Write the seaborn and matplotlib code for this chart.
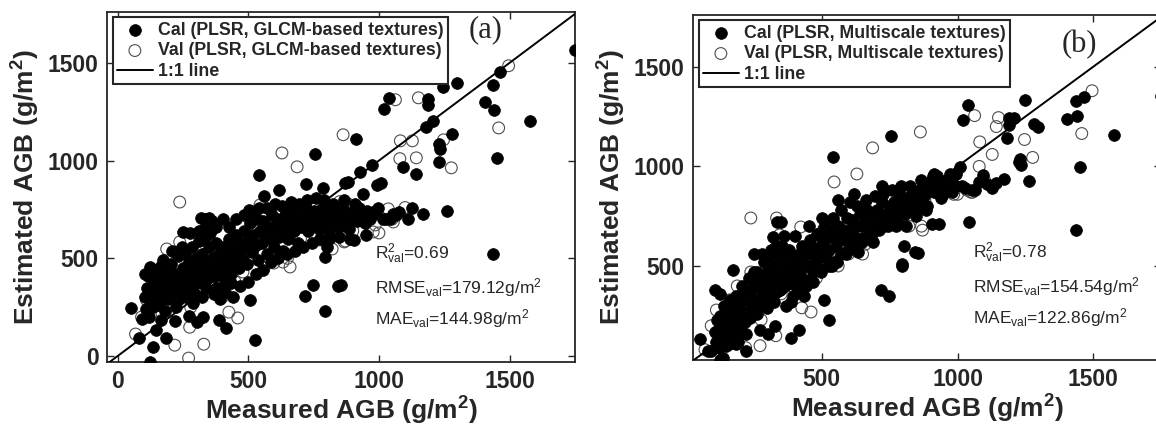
import numpy as np
import pandas as pd
import matplotlib
matplotlib.use("Agg")
import matplotlib.pyplot as plt
import seaborn as sns

# measured AGB (g/m2) of calibration samples, shared by both panels
cal_measured = [
    1750, 1465, 1435, 1404, 1442, 1577, 1450, 1438, 1297, 1247, 1189, 1189, 1040, 1020,
    1208, 1181, 1281, 913, 1231, 1235, 1228, 1143, 1093, 974, 928, 1009, 993, 882, 940,
    1262, 1170, 1128, 1078, 1055, 1028, 978, 905, 844, 1044, 933,
    756, 541, 617, 560, 786, 721, 871, 502, 318, 349, 249, 330, 334, 173, 123, 107,
    50, 92, 81, 134, 123, 184, 526, 414, 387, 326, 303, 272, 219, 165, 146,
    717, 748, 855, 794, 794, 802, 506, 433,
    105, 112, 118, 125, 130, 138, 142, 150, 155, 160, 165, 172, 178, 185, 190, 196,
    200, 205, 210, 215, 220, 226, 232, 238, 244, 250,
    255, 260, 265, 270, 275, 280, 285, 290, 295, 300, 305, 310, 315, 320, 325, 330,
    335, 340, 345, 350, 355, 360, 365, 370, 375, 380, 385, 390, 395, 400,
    405, 410, 415, 420, 425, 430, 436, 442, 448, 455, 460, 466, 472, 478, 485, 490,
    496, 502, 508, 514, 520, 526, 532, 538, 545,
    552, 558, 565, 572, 578, 585, 592, 598, 605, 612, 618, 625, 632, 640, 646, 652,
    660, 668, 675, 682, 690, 698,
    705, 712, 720, 728, 735, 742, 750, 758, 765, 772, 780, 788, 795, 802, 810, 818,
    825, 832, 840, 848, 855, 862, 870, 878, 885, 892,
    905, 915, 925, 935, 945, 955, 965, 985,
    110, 120, 135, 145, 158, 168, 180, 192, 208, 222, 236, 248, 262, 278, 288, 298,
    312, 322, 338, 352, 368, 378, 392, 402, 412, 428, 440, 452, 468, 482, 498, 512,
    528, 542, 556, 570, 588, 602, 615, 630, 648, 664, 680, 695, 710, 726, 744, 760,
    776, 790, 808, 826, 846, 866, 888, 910, 950, 995, 1015, 1065, 1110,
]

# estimated AGB, panel (a) GLCM-based textures
cal_est_glcm = [
    1565, 1454, 1388, 1300, 1260, 1203, 1014, 522, 1398, 1377, 1316, 1285, 1321, 1265,
    1203, 1173, 1137, 1111, 1086, 1060, 993, 932, 968, 978, 942, 886, 876, 891, 830,
    742, 727, 758, 737, 727, 701, 737, 594, 358, 700, 700,
    1034, 927, 850, 819, 860, 881, 886, 748, 707, 707, 635, 650, 609, 492, 456, 420,
    246, 189, 92, 46, -31, 92, 82, 143, 184, 200, 174, 205, 179, 184, 133,
    307, 364, 364, 230, 507, 558, 287, 374,
    300, 350, 410, 330, 280, 390, 320, 360, 300, 420, 340, 380, 300, 440, 350, 400,
    330, 470, 380, 300, 420, 360, 510, 400, 330, 450,
    380, 520, 430, 350, 480, 400, 560, 440, 370, 500, 420, 590, 460, 380, 520, 430,
    700, 480, 400, 560, 440, 690, 500, 410, 580, 460, 350, 520, 430, 560,
    480, 390, 530, 450, 600, 510, 420, 560, 480, 620, 540, 450, 580, 500, 640, 560,
    470, 600, 680, 530, 620, 570, 700, 490, 640,
    580, 690, 620, 520, 660, 600, 720, 560, 650, 700, 610, 680, 540, 720, 650, 600,
    690, 740, 640, 700, 580, 660,
    720, 680, 760, 640, 700, 660, 740, 690, 720, 650, 700, 760, 680, 720, 640, 700,
    740, 680, 720, 660, 700, 760, 680, 720, 650, 700,
    740, 690, 760, 720, 680, 740, 700, 730,
    240, 200, 250, 440, 260, 460, 230, 290, 540, 250, 290, 560, 300, 630, 270, 320,
    640, 300, 350, 630, 320, 660, 290, 700, 330, 660, 300, 700, 360, 720, 380, 740,
    420, 760, 440, 760, 480, 780, 500, 770, 520, 790, 540, 780, 560, 800, 580, 810,
    600, 800, 600, 780, 610, 800, 600, 780, 620, 760, 700, 720, 700,
]

# estimated AGB, panel (b) multiscale textures
cal_est_multi = [
    1355, 1349, 1329, 1239, 1254, 1158, 997, 681, 1198, 1334, 1244, 1210, 1309, 1234,
    1244, 1143, 1213, 960, 1038, 1008, 1020, 917, 957, 960, 930, 997, 900, 880, 840,
    927, 937, 890, 922, 880, 890, 870, 711, 570, 721, 711,
    1153, 1048, 860, 830, 870, 900, 900, 740, 646, 720, 560, 600, 560, 480, 359, 380,
    133, 73, 73, 38, 30, 110, 230, 178, 138, 200, 160, 180, 73, 130, 100,
    379, 349, 565, 500, 510, 600, 330, 350,
    170, 230, 180, 250, 140, 300, 210, 160, 250, 330, 200, 280, 150, 350, 230, 300,
    180, 400, 270, 220, 330, 250, 440, 380, 290, 420,
    330, 470, 400, 300, 450, 350, 520, 420, 330, 480, 400, 550, 450, 360, 500, 420,
    720, 460, 380, 540, 430, 650, 490, 410, 560, 470, 320, 520, 440, 550,
    470, 390, 510, 470, 580, 520, 430, 570, 500, 630, 560, 470, 590, 520, 660, 570,
    480, 610, 690, 540, 640, 580, 680, 500, 650,
    600, 700, 640, 560, 680, 630, 740, 580, 680, 730, 650, 700, 570, 760, 700, 640,
    720, 780, 680, 750, 620, 700,
    780, 730, 820, 700, 760, 720, 800, 750, 820, 700, 780, 840, 760, 800, 700, 820,
    850, 780, 830, 750, 860, 880, 820, 850, 780, 900,
    930, 870, 950, 900, 860, 920, 890, 910,
    120, 90, 150, 200, 110, 260, 180, 120, 350, 160, 240, 470, 260, 560, 380, 290,
    580, 320, 480, 600, 300, 580, 350, 650, 420, 600, 400, 700, 420, 660, 470, 720,
    500, 740, 520, 780, 560, 820, 600, 800, 620, 830, 650, 850, 680, 860, 700, 880,
    720, 900, 760, 900, 780, 930, 800, 950, 880, 960, 900, 880, 910,
]

# measured AGB of validation samples
val_measured = [
    1496, 1458, 1063, 1151, 863, 1082, 1128, 1143, 1247, 1277, 1036, 1055, 986, 978,
    871, 821, 238, 629, 687, 426, 460, 330, 272, 219, 69, 188, 238, 775, 867, 545,
    633, 598, 660, 276, 111, 92, 333, 422, 507, 344,
    150, 160, 170, 200, 250, 280, 300, 350, 380, 400, 450, 480, 520, 560, 580, 620,
    650, 700, 720, 750, 820, 850, 880, 900, 960, 1000, 1050, 1100, 1080,
]

val_est_glcm = [
    1485, 1167, 1311, 1321, 1132, 1101, 1101, 1014, 1106, 963, 753, 686, 671, 635,
    589, 548, 788, 1039, 968, 225, 195, 61, -10, 56, 113, 548, 584, 594, 584, 773,
    481, 476, 456, 148, 287, 200, 520, 560, 600, 480,
    260, 300, 220, 280, 320, 250, 380, 330, 420, 300, 380, 430, 560, 450, 600, 640,
    500, 600, 660, 630, 640, 790, 780, 640, 720, 630, 700, 760, 1010,
]

val_est_multi = [
    1380, 1165, 1255, 1245, 1173, 1123, 1060, 1200, 1135, 1045, 880, 870, 860, 900,
    680, 700, 741, 962, 1093, 290, 269, 150, 100, 90, 80, 400, 470, 740, 700, 922,
    600, 560, 610, 230, 279, 200, 741, 696, 686, 656,
    260, 330, 290, 220, 300, 350, 400, 360, 430, 380, 420, 440, 560, 500, 650, 700,
    560, 680, 760, 720, 800, 860, 830, 880, 900, 860, 870, 930, 1000,
]

panels = [
    dict(est_cal=cal_est_glcm, est_val=val_est_glcm, name="GLCM-based textures", tag="(a)",
         stats=["0.69", "179.12", "144.98"]),
    dict(est_cal=cal_est_multi, est_val=val_est_multi, name="Multiscale textures", tag="(b)",
         stats=["0.78", "154.54", "122.86"]),
]

sns.set_style("ticks")
plt.rcParams["font.family"] = ["Liberation Sans", "DejaVu Sans"]
plt.rcParams["mathtext.fontset"] = "custom"
plt.rcParams["mathtext.rm"] = "Liberation Sans"
plt.rcParams["mathtext.it"] = "Liberation Sans:italic"
plt.rcParams["mathtext.bf"] = "Liberation Sans:bold"
plt.rcParams["mathtext.default"] = "regular"

TXT = "#262626"

fig = plt.figure(figsize=(11.56, 4.29), dpi=100)
ax_a = fig.add_axes([0.0926, 0.1562, 0.4048, 0.8159])
ax_b = fig.add_axes([0.5995, 0.1608, 0.4048, 0.8042])

layout = [
    (ax_a, (-40, 1750), (-30, 1760), [0, 500, 1000, 1500], [0, 500, 1000, 1500],
     (0.808, 0.95), 0.573),
    (ax_b, (25, 1750), (28, 1760), [500, 1000, 1500], [500, 1000, 1500],
     (0.825, 0.915), 0.598),
]

for p, (ax, xl, yl, xt, yt, tagpos, tx) in zip(panels, layout):
    cal = pd.DataFrame({"measured": cal_measured, "estimated": p["est_cal"]})
    val = pd.DataFrame({"measured": val_measured, "estimated": p["est_val"]})

    sns.scatterplot(data=val, x="measured", y="estimated", ax=ax, s=72,
                    facecolor="none", edgecolor="0.3", linewidth=0.8,
                    label="Val (PLSR, %s)" % p["name"], zorder=2)
    sns.scatterplot(data=cal, x="measured", y="estimated", ax=ax, s=72,
                    color="black", edgecolor="black", linewidth=0.5,
                    label="Cal (PLSR, %s)" % p["name"], zorder=3)
    ax.plot([-100, 1800], [-100, 1800], color="black", lw=1.4, label="1:1 line", zorder=4)

    ax.set_xlim(*xl)
    ax.set_ylim(*yl)
    ax.set_xticks(xt)
    ax.set_yticks(yt)
    ax.tick_params(direction="in", top=True, right=True, length=5, width=1,
                   colors=TXT, labelsize=16.5, pad=6)
    for lab in ax.get_xticklabels() + ax.get_yticklabels():
        lab.set_fontweight("bold")
    for sp in ax.spines.values():
        sp.set_color(TXT)
        sp.set_linewidth(1.3)
    ax.set_xlabel("Measured AGB (g/m$^2$)", fontsize=19, fontweight="bold",
                  color=TXT, labelpad=1)
    ax.set_ylabel("Estimated AGB (g/m$^2$)", fontsize=19, fontweight="bold",
                  color=TXT, labelpad=4)

    h, l = ax.get_legend_handles_labels()
    order = [1, 0, 2]
    leg = ax.legend([h[i] for i in order], [l[i] for i in order], loc="upper left",
                    bbox_to_anchor=(0.012, 0.985), borderaxespad=0, fancybox=False,
                    edgecolor=TXT, framealpha=1, prop={"weight": "bold", "size": 12.8},
                    handlelength=2.0, handletextpad=0.3, labelspacing=0.2,
                    borderpad=0.25)
    leg.get_frame().set_linewidth(1.5)
    for t in leg.get_texts():
        t.set_color(TXT)

    ax.text(tagpos[0], tagpos[1], p["tag"], transform=ax.transAxes, ha="center", va="center",
            fontsize=22, family="Liberation Serif", color=TXT)
    ax.text(tx, 0.31, "R$^2_{val}$=%s" % p["stats"][0], transform=ax.transAxes,
            va="center", fontsize=12.5, color=TXT)
    ax.text(tx, 0.213, "RMSE$_{val}$=%sg/m$^2$" % p["stats"][1], transform=ax.transAxes,
            va="center", fontsize=12.5, color=TXT)
    ax.text(tx, 0.124, "MAE$_{val}$=%sg/m$^2$" % p["stats"][2], transform=ax.transAxes,
            va="center", fontsize=12.5, color=TXT)

fig.savefig("out.png", dpi=100)
